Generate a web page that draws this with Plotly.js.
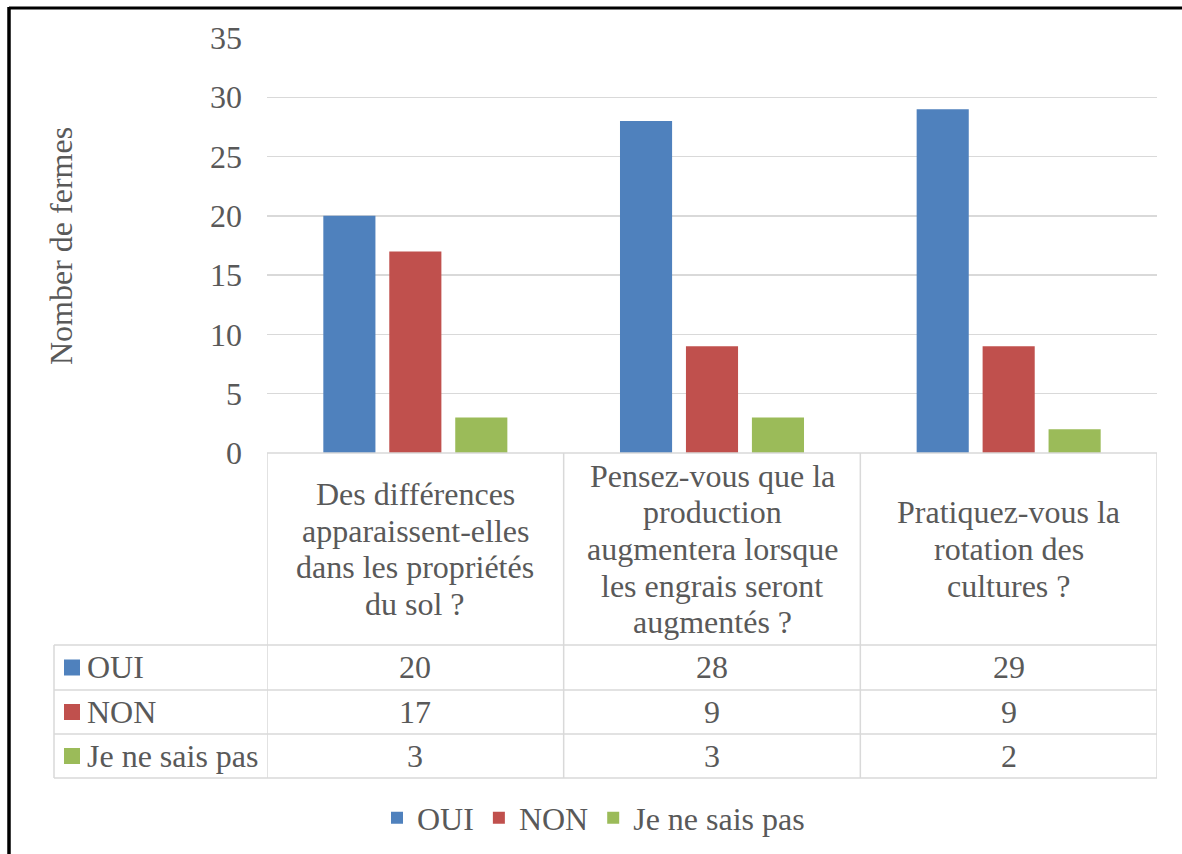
<!DOCTYPE html>
<html>
<head>
<meta charset="utf-8">
<script src="https://cdn.plot.ly/plotly-3.0.1.min.js"></script>
<style>
  html, body { margin: 0; padding: 0; background: #fff; }
  #chart { width: 1182px; height: 854px; }
</style>
</head>
<body>
<div id="chart"></div>
<script>
// ----- data -----
const questions = [
  "Des différences<br>apparaissent-elles<br>dans les propriétés<br>du sol ?",
  "Pensez-vous que la<br>production<br>augmentera lorsque<br>les engrais seront<br>augmentés ?",
  "Pratiquez-vous la<br>rotation des<br>cultures ?"
];
const seriesNames = ["OUI", "NON", "Je ne sais pas"];
const oui = [20, 28, 29];
const non = [17, 9, 9];
const nsp = [3, 3, 2];
const seriesValues = [oui, non, nsp];
const seriesColors = ["#4F81BD", "#C0504D", "#9BBB59"];
const yTicks = [0, 5, 10, 15, 20, 25, 30, 35];
const yTitle = "Nomber de fermes";

// ----- page geometry (px) -----
const W = 1182, H = 854;
const M = { l: 267, r: 25, t: 38, b: 401, autoexpand: false };
const px = x => (x - M.l) / (W - M.l - M.r);       // pixel x -> paper
const py = y => (H - M.b - y) / (H - M.t - M.b);   // pixel y -> paper

const font = "Liberation Serif, Times New Roman, serif";
const grey = "#595959";
const lineCol = "#d9d9d9";

// data table rows (pixel edges)
const rowEdges = [645, 690, 734, 778];
const catTop = 453, catBottom = 645;
const lineStep = 36.7;

const traces = seriesNames.map((name, s) => ({
  type: "bar",
  name,
  x: questions.map((_, i) => i),
  y: seriesValues[s],
  marker: { color: seriesColors[s] },
  hoverinfo: "skip"
}));

const shapes = [];
const annotations = [];

// category label cells (one annotation per line, tighter spacing than plotly's default)
questions.forEach((q, i) => {
  const lines = q.split("<br>");
  const mid = (catTop + catBottom) / 2;
  lines.forEach((ln, k) => {
    annotations.push({
      text: ln, xref: "x", yref: "paper",
      x: i, y: py(mid + (k - (lines.length - 1) / 2) * lineStep),
      showarrow: false, xanchor: "center", yanchor: "middle",
      font: { family: font, size: 32, color: grey }
    });
  });
});

// table grid
[-0.5, 0.5, 1.5, 2.5].forEach(xv => shapes.push({
  type: "line", xref: "x", yref: "paper",
  x0: xv, x1: xv, y0: py(catTop), y1: py(rowEdges[3]),
  line: { color: lineCol, width: 1.5 }
}));
shapes.push({
  type: "line", xref: "paper", yref: "paper",
  x0: px(54), x1: px(54), y0: py(rowEdges[0]), y1: py(rowEdges[3]),
  line: { color: lineCol, width: 1.5 }
});
rowEdges.forEach(ry => shapes.push({
  type: "line", xref: "paper", yref: "paper",
  x0: px(54), x1: 1, y0: py(ry), y1: py(ry),
  line: { color: lineCol, width: 1.5 }
}));
shapes.push({
  type: "line", xref: "paper", yref: "paper",
  x0: 0, x1: 1, y0: 0, y1: 0,
  line: { color: lineCol, width: 1.5 }
});

// table rows: key square, series name, values
seriesNames.forEach((name, s) => {
  const cy = (rowEdges[s] + rowEdges[s + 1]) / 2;
  shapes.push({
    type: "rect", xref: "paper", yref: "paper",
    x0: px(64), x1: px(80), y0: py(cy - 8), y1: py(cy + 8),
    fillcolor: seriesColors[s], line: { width: 0 }
  });
  annotations.push({
    text: name, xref: "paper", yref: "paper",
    x: px(85), y: py(cy), xanchor: "left", yanchor: "middle",
    showarrow: false, font: { family: font, size: 32, color: grey }
  });
  seriesValues[s].forEach((v, i) => annotations.push({
    text: String(v), xref: "x", yref: "paper",
    x: i, y: py(cy), xanchor: "center", yanchor: "middle",
    showarrow: false, font: { family: font, size: 32, color: grey }
  }));
});

// y axis title
annotations.push({
  text: yTitle, xref: "paper", yref: "paper",
  x: px(61), y: py(246), textangle: -90,
  xanchor: "center", yanchor: "middle", showarrow: false,
  font: { family: font, size: 32, color: grey }
});

// outer frame (top and left edges)
shapes.push({
  type: "line", xref: "paper", yref: "paper",
  x0: px(9), x1: px(W), y0: py(8), y1: py(8),
  line: { color: "#000", width: 3 }
});
shapes.push({
  type: "line", xref: "paper", yref: "paper",
  x0: px(9), x1: px(9), y0: py(7), y1: py(H),
  line: { color: "#000", width: 3.5 }
});

const layout = {
  width: W, height: H,
  margin: M,
  paper_bgcolor: "#fff",
  plot_bgcolor: "#fff",
  font: { family: font, color: grey, size: 32 },
  barmode: "group",
  bargap: 0.333,
  bargroupgap: 0.21,
  showlegend: true,
  legend: {
    orientation: "h",
    xref: "paper", yref: "paper",
    x: px(377), y: py(818),
    xanchor: "left", yanchor: "middle",
    font: { family: font, size: 32, color: grey },
    traceorder: "normal"
  },
  xaxis: {
    range: [-0.5, 2.5],
    showticklabels: false, showgrid: false, zeroline: false,
    showline: false, ticks: "", fixedrange: true
  },
  yaxis: {
    range: [0, 35],
    tickvals: yTicks,
    showgrid: true, gridcolor: lineCol, gridwidth: 1.3,
    zeroline: false, showline: false, ticks: "",
    ticklabelstandoff: 24,
    tickfont: { family: font, size: 32, color: grey },
    fixedrange: true
  },
  shapes,
  annotations
};

Plotly.newPlot("chart", traces, layout, { displayModeBar: false, staticPlot: true });
</script>
</body>
</html>
